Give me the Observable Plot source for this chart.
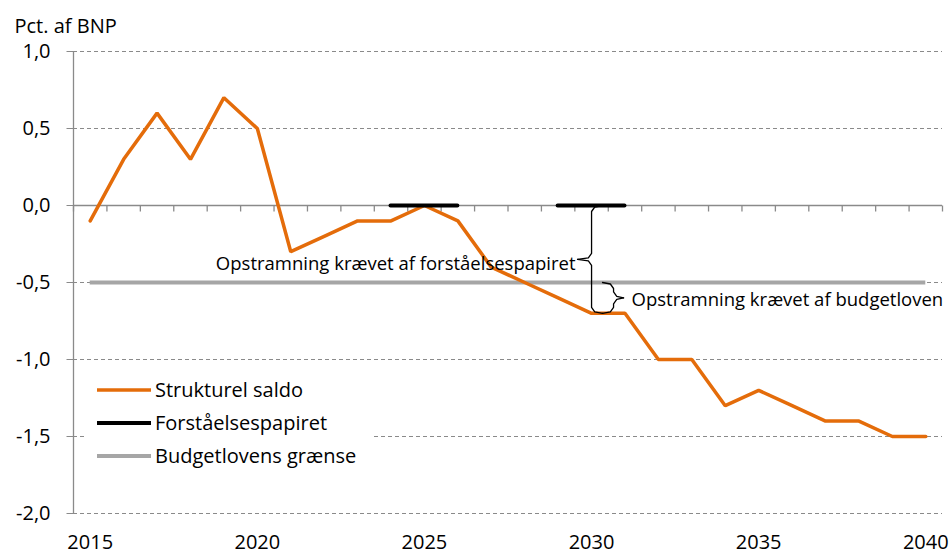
<!DOCTYPE html>
<html>
<head>
<meta charset="utf-8">
<script src="https://cdn.jsdelivr.net/npm/d3@7"></script>
<script src="https://cdn.jsdelivr.net/npm/@observablehq/plot@0.6"></script>
<style>
  body { margin: 0; background: #fff; }
  #chart { width: 952px; height: 554px; }
</style>
</head>
<body>
<div id="chart"></div>
<script>
// ---- Data ----
const years = [2015, 2016, 2017, 2018, 2019, 2020, 2021, 2022, 2023, 2024, 2025, 2026, 2027,
               2028, 2029, 2030, 2031, 2032, 2033, 2034, 2035, 2036, 2037, 2038, 2039, 2040];
const strukturelSaldo = [-0.1, 0.3, 0.6, 0.3, 0.7, 0.5, -0.3, -0.2, -0.1, -0.1, 0.0, -0.1, -0.4,
                         -0.5, -0.6, -0.7, -0.7, -1.0, -1.0, -1.3, -1.2, -1.3, -1.4, -1.4, -1.5, -1.5];
const forstStart = [2024, 2029];
const forstEnd = [2026, 2031];
const forstValue = [0.0, 0.0];
const budgetGraense = -0.5;
const yTicks = [1.0, 0.5, 0.0, -0.5, -1.0, -1.5, -2.0];
const xLabels = [2015, 2020, 2025, 2030, 2035, 2040];
const braceYear = 2030;
const seriesNames = ["Strukturel saldo", "Forståelsespapiret", "Budgetlovens grænse"];
const annotation1 = "Opstramning krævet af forståelsespapiret";
const annotation2 = "Opstramning krævet af budgetloven";
const yTitle = "Pct. af BNP";

// ---- Layout / style ----
const W = 952, H = 554;
const mL = 73, mR = 10, mT = 51, mB = 41;
const xDomain = [years[0] - 0.5, years[years.length - 1] + 0.5];
const yDomain = [-2, 1];
const pxPerYear = (W - mL - mR) / (xDomain[1] - xDomain[0]);
const pxPerUnit = (H - mT - mB) / (yDomain[1] - yDomain[0]);
const px2x = p => p / pxPerYear;
const px2y = p => p / pxPerUnit;
const ORANGE = "#E46C0A", GRID = "#8a8a8a", LIMIT = "#A6A6A6";
const FONT = "Open Sans";

const fmt = d => (d < 0 ? "-" : "") + Math.abs(d).toFixed(1).replace(".", ",");
const boundaries = [...years.map(y => y - 0.5), years[years.length - 1] + 0.5];

// custom tick symbols
const tickDown = { draw(ctx) { ctx.moveTo(0, 0); ctx.lineTo(0, 6); } };
const tickLeft = { draw(ctx) { ctx.moveTo(0, 0); ctx.lineTo(-7, 0); } };

// braces derived from data
const iB = years.indexOf(braceYear);
const top1 = forstValue[1], bot = strukturelSaldo[iB], mid1 = (top1 + bot) / 2;
const top2 = budgetGraense, mid2 = (top2 + bot) / 2;
function brace(x, top, bottom, dir, hook, point) {
  const mid = (top + bottom) / 2;
  const rx = px2x(4), ry = px2y(6);
  const h = -dir * px2x(hook), p = dir * px2x(point);
  const s = -dir;
  return [
    [x + h, top, "a"], [x + s * rx * 0.8, top - ry * 0.25, "a"], [x, top - ry, "a"],
    [x, mid + ry, "a"], [x - s * rx * 0.8, mid + ry * 0.25, "a"], [x + p, mid, "a"],
    [x + p, mid, "b"], [x - s * rx * 0.8, mid - ry * 0.25, "b"], [x, mid - ry, "b"],
    [x, bottom + ry, "b"], [x + s * rx * 0.8, bottom + ry * 0.25, "b"], [x + h, bottom, "b"]
  ];
}
const brace1 = brace(braceYear, top1, bot, -1, 11, 14).map(d => ({x: d[0], y: d[1], g: "1" + d[2]}));
const brace2X = braceYear + px2x(22);
const brace2 = brace(brace2X, top2, bot, +1, 11, 10).map(d => ({x: d[0], y: d[1], g: "2" + d[2]}));
const braces = [...brace1, ...brace2];

const plot = Plot.plot({
  width: W, height: H,
  marginLeft: mL, marginRight: mR, marginTop: mT, marginBottom: mB,
  x: { domain: xDomain, axis: null },
  y: { domain: yDomain, axis: null },
  style: { fontFamily: FONT, fontSize: "17px", color: "#000", background: "#fff", overflow: "visible" },
  marks: [
    Plot.ruleY(yTicks.filter(d => d !== 0), { y: d => d, stroke: GRID, strokeWidth: 1, strokeDasharray: "4,3" }),
    Plot.dot(yTicks, { x: xDomain[0], y: d => d, symbol: tickLeft, r: 5, stroke: GRID, fill: "none", strokeWidth: 1 }),
    Plot.ruleY([0], { stroke: GRID, strokeWidth: 1.3 }),
    Plot.dot(boundaries, { x: d => d, y: 0, symbol: tickDown, r: 5, stroke: GRID, fill: "none", strokeWidth: 1.3 }),
    Plot.ruleX([xDomain[0]], { stroke: GRID, strokeWidth: 1.3 }),
    Plot.text(yTicks, { y: d => d, text: d => fmt(d), frameAnchor: "left", textAnchor: "end", dx: -23, fontSize: 20 }),
    Plot.text(xLabels, { x: d => d, text: d => String(d), frameAnchor: "bottom", dy: 35, fontSize: 20 }),
    Plot.text([yTitle], { frameAnchor: "top-left", text: d => d, textAnchor: "start", dx: -59, dy: -33, fontSize: 20 }),
    Plot.ruleY([budgetGraense], { y: d => d, x1: years[0], x2: years[years.length - 1], stroke: LIMIT, strokeWidth: 4 }),
    Plot.line(years, { x: years, y: strukturelSaldo, stroke: ORANGE, strokeWidth: 3.5, strokeLinejoin: "miter" }),
    Plot.ruleY(forstValue, { y: forstValue, x1: forstStart, x2: forstEnd, stroke: "#000", strokeWidth: 4, strokeLinecap: "round" }),
    Plot.line(braces, { x: "x", y: "y", z: "g", stroke: "#000", strokeWidth: 1.3, curve: "linear" }),
    Plot.text([annotation1], { x: braceYear - px2x(16), y: mid1, text: d => d, textAnchor: "end", dy: 5, fontSize: 18.5 }),
    Plot.text([annotation2], { x: brace2X + px2x(18), y: mid2, text: d => d, textAnchor: "start", dy: 2, fontSize: 18.5 })
  ]
});

document.getElementById("chart").appendChild(plot);

// ---- Legend (inside the plot area) ----
const svg = d3.select(plot.tagName.toLowerCase() === "svg" ? plot : plot.querySelector("svg"));
const lg = svg.append("g").attr("font-family", FONT).attr("font-size", 20).attr("text-anchor", "start");
lg.append("rect").attr("x", 86).attr("y", 366).attr("width", 285).attr("height", 108).attr("fill", "#fff");
const legendColors = [ORANGE, "#000", LIMIT];
seriesNames.forEach((name, i) => {
  const yy = 390 + i * 33;
  lg.append("line").attr("x1", 97).attr("x2", 151).attr("y1", yy).attr("y2", yy)
    .attr("stroke", legendColors[i]).attr("stroke-width", i === 0 ? 3.5 : 4);
  lg.append("text").attr("x", 155).attr("y", yy).attr("dy", "0.35em").attr("fill", "#000").text(name);
});
</script>
</body>
</html>
